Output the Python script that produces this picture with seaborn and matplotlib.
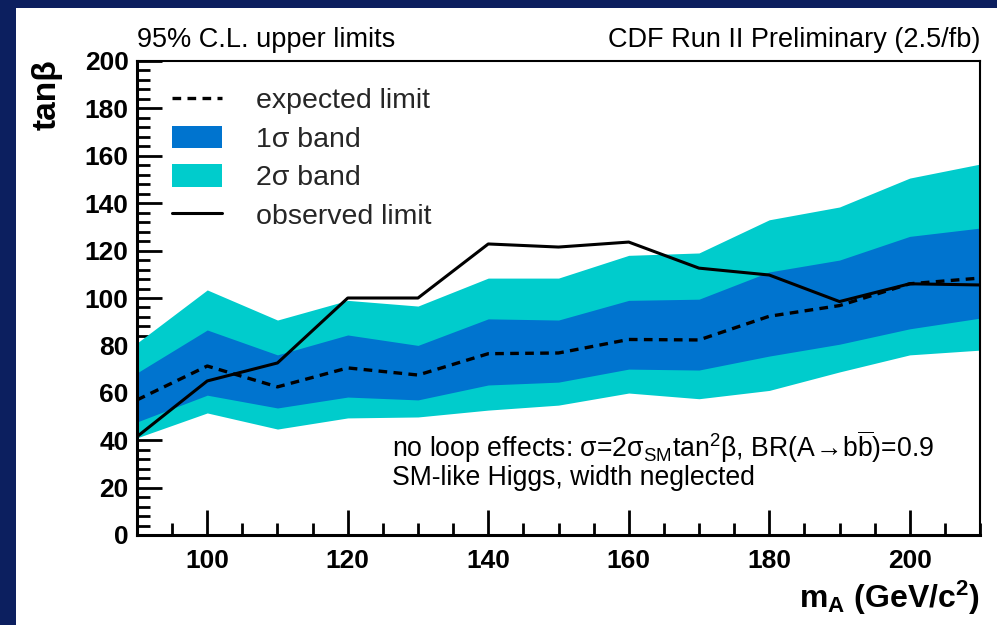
import matplotlib
matplotlib.use("Agg")
import matplotlib.pyplot as plt
import pandas as pd
import seaborn as sns
from matplotlib.lines import Line2D
from matplotlib.patches import Patch, Rectangle
from matplotlib.ticker import MultipleLocator

# Limits on tan(beta) versus the A boson mass
mass = [90, 100, 110, 120, 130, 140, 150, 160, 170, 180, 190, 200, 210]
observed = [41.5, 65.0, 72.6, 100.0, 100.0, 122.8, 121.5, 123.6, 112.6, 109.7, 98.5, 106.0, 105.5]
expected = [57.0, 71.3, 62.5, 70.5, 67.5, 76.5, 76.8, 82.5, 82.3, 92.3, 96.8, 106.0, 108.4]
band1_lo = [47.7, 59.0, 53.6, 58.2, 57.0, 63.3, 64.5, 70.0, 69.6, 75.5, 80.5, 87.0, 91.5]
band1_hi = [68.4, 86.5, 76.0, 84.4, 80.0, 91.2, 90.7, 99.0, 99.5, 111.0, 116.0, 126.0, 129.5]
band2_lo = [41.0, 51.5, 44.7, 49.4, 49.8, 52.7, 54.8, 59.9, 57.5, 61.0, 68.8, 76.0, 78.0]
band2_hi = [81.0, 103.4, 90.7, 99.0, 96.6, 108.4, 108.4, 118.0, 119.0, 133.0, 138.4, 150.6, 156.5]

x_ticks = [100, 120, 140, 160, 180, 200]
y_ticks = [0, 20, 40, 60, 80, 100, 120, 140, 160, 180, 200]

NAVY = "#0c1f5f"
ONE_SIGMA = "#0074cf"
TWO_SIGMA = "#00cccc"

sns.set_theme(style="ticks")
plt.rcParams["font.family"] = ["Liberation Sans", "DejaVu Sans"]
plt.rcParams["mathtext.fontset"] = "custom"
plt.rcParams["mathtext.rm"] = "Liberation Sans"
plt.rcParams["mathtext.it"] = "Liberation Sans:italic"
plt.rcParams["mathtext.bf"] = "Liberation Sans:bold"

df = pd.DataFrame({"mass": mass, "observed": observed, "expected": expected,
                   "b1lo": band1_lo, "b1hi": band1_hi,
                   "b2lo": band2_lo, "b2hi": band2_hi})

W, H = 997, 625
fig = plt.figure(figsize=(W / 100, H / 100), dpi=100, facecolor=NAVY)
# white page inside the navy frame
fig.patches.append(Rectangle((16 / W, 0), 1 - 16 / W, 1 - 8 / H,
                             transform=fig.transFigure, facecolor="white",
                             edgecolor="none", zorder=-5))

ax = fig.add_axes([137 / W, (H - 535) / H, (980 - 137) / W, (535 - 61) / H])
ax.set_facecolor("white")

ax.fill_between(df["mass"], df["b2lo"], df["b2hi"], color=TWO_SIGMA, lw=0, zorder=1)
ax.fill_between(df["mass"], df["b1lo"], df["b1hi"], color=ONE_SIGMA, lw=0, zorder=2)
sns.lineplot(data=df, x="mass", y="expected", ax=ax, color="black", lw=2.4, zorder=3)
ax.lines[-1].set_dashes((2.6, 1.9))
sns.lineplot(data=df, x="mass", y="observed", ax=ax, color="black", lw=2.2, zorder=4)

ax.set_xlim(90, 210)
ax.set_ylim(0, 200)
ax.set_xticks(x_ticks)
ax.set_yticks(y_ticks)
ax.xaxis.set_minor_locator(MultipleLocator(5))
ax.yaxis.set_minor_locator(MultipleLocator(4))
ax.tick_params(axis="both", which="major", direction="in", length=18, width=2,
               color="black", labelsize=19, labelcolor="black")
ax.tick_params(axis="both", which="minor", direction="in", length=9, width=2,
               color="black")
ax.tick_params(axis="x", which="both", pad=10)
ax.tick_params(axis="y", which="both", pad=6)
for lab in ax.get_xticklabels() + ax.get_yticklabels():
    lab.set_fontweight("bold")
for side in ["left", "bottom"]:
    ax.spines[side].set_linewidth(2.2)
    ax.spines[side].set_color("black")
for side in ["top", "right"]:
    ax.spines[side].set_linewidth(1.5)
    ax.spines[side].set_color("black")
    ax.spines[side].set_visible(True)
ax.set_xlabel("")
ax.set_ylabel("")

# legend
handles = [Line2D([], [], color="black", lw=2.4, dashes=(2.6, 1.9)),
           Patch(facecolor=ONE_SIGMA, edgecolor="none"),
           Patch(facecolor=TWO_SIGMA, edgecolor="none"),
           Line2D([], [], color="black", lw=2.2)]
labels = ["expected limit", "1σ band", "2σ band", "observed limit"]
ax.legend(handles, labels, loc="upper left", bbox_to_anchor=(0.0415, 0.945),
          frameon=False, fontsize=20.5, borderpad=0, borderaxespad=0,
          handlelength=1.75, handleheight=0.85, handletextpad=1.2,
          labelspacing=0.4)

# header texts
fig.text(137 / W, (H - 47) / H, "95% C.L. upper limits", fontsize=19.5,
         ha="left", va="baseline", color="black")
fig.text(980 / W, (H - 47) / H, "CDF Run II Preliminary (2.5/fb)", fontsize=19.5,
         ha="right", va="baseline", color="black")

# axis titles
fig.text(47 / W, (H - 59) / H, "tanβ", fontsize=24, fontweight="bold",
         rotation=90, ha="center", va="top", color="black")
fig.text(980 / W, (H - 608) / H, r"$\mathbf{m_{A}}$ (GeV/c$^{\mathbf{2}}$)",
         fontsize=23, fontweight="bold", ha="right", va="baseline", color="black")

# model assumptions
fig.text(392 / W, (H - 457) / H,
         r"no loop effects: $\mathrm{\sigma}$=2$\mathrm{\sigma_{SM}}$tan$^{2}\mathrm{\beta}$, "
         r"BR(A$\!\rightarrow\!$b$\overline{\mathrm{b}}$)=0.9",
         fontsize=19.2, ha="left", va="baseline", color="black")
fig.text(392 / W, (H - 485) / H, "SM-like Higgs, width neglected",
         fontsize=19.2, ha="left", va="baseline", color="black")

fig.savefig("out.png", dpi=100, facecolor=NAVY)
